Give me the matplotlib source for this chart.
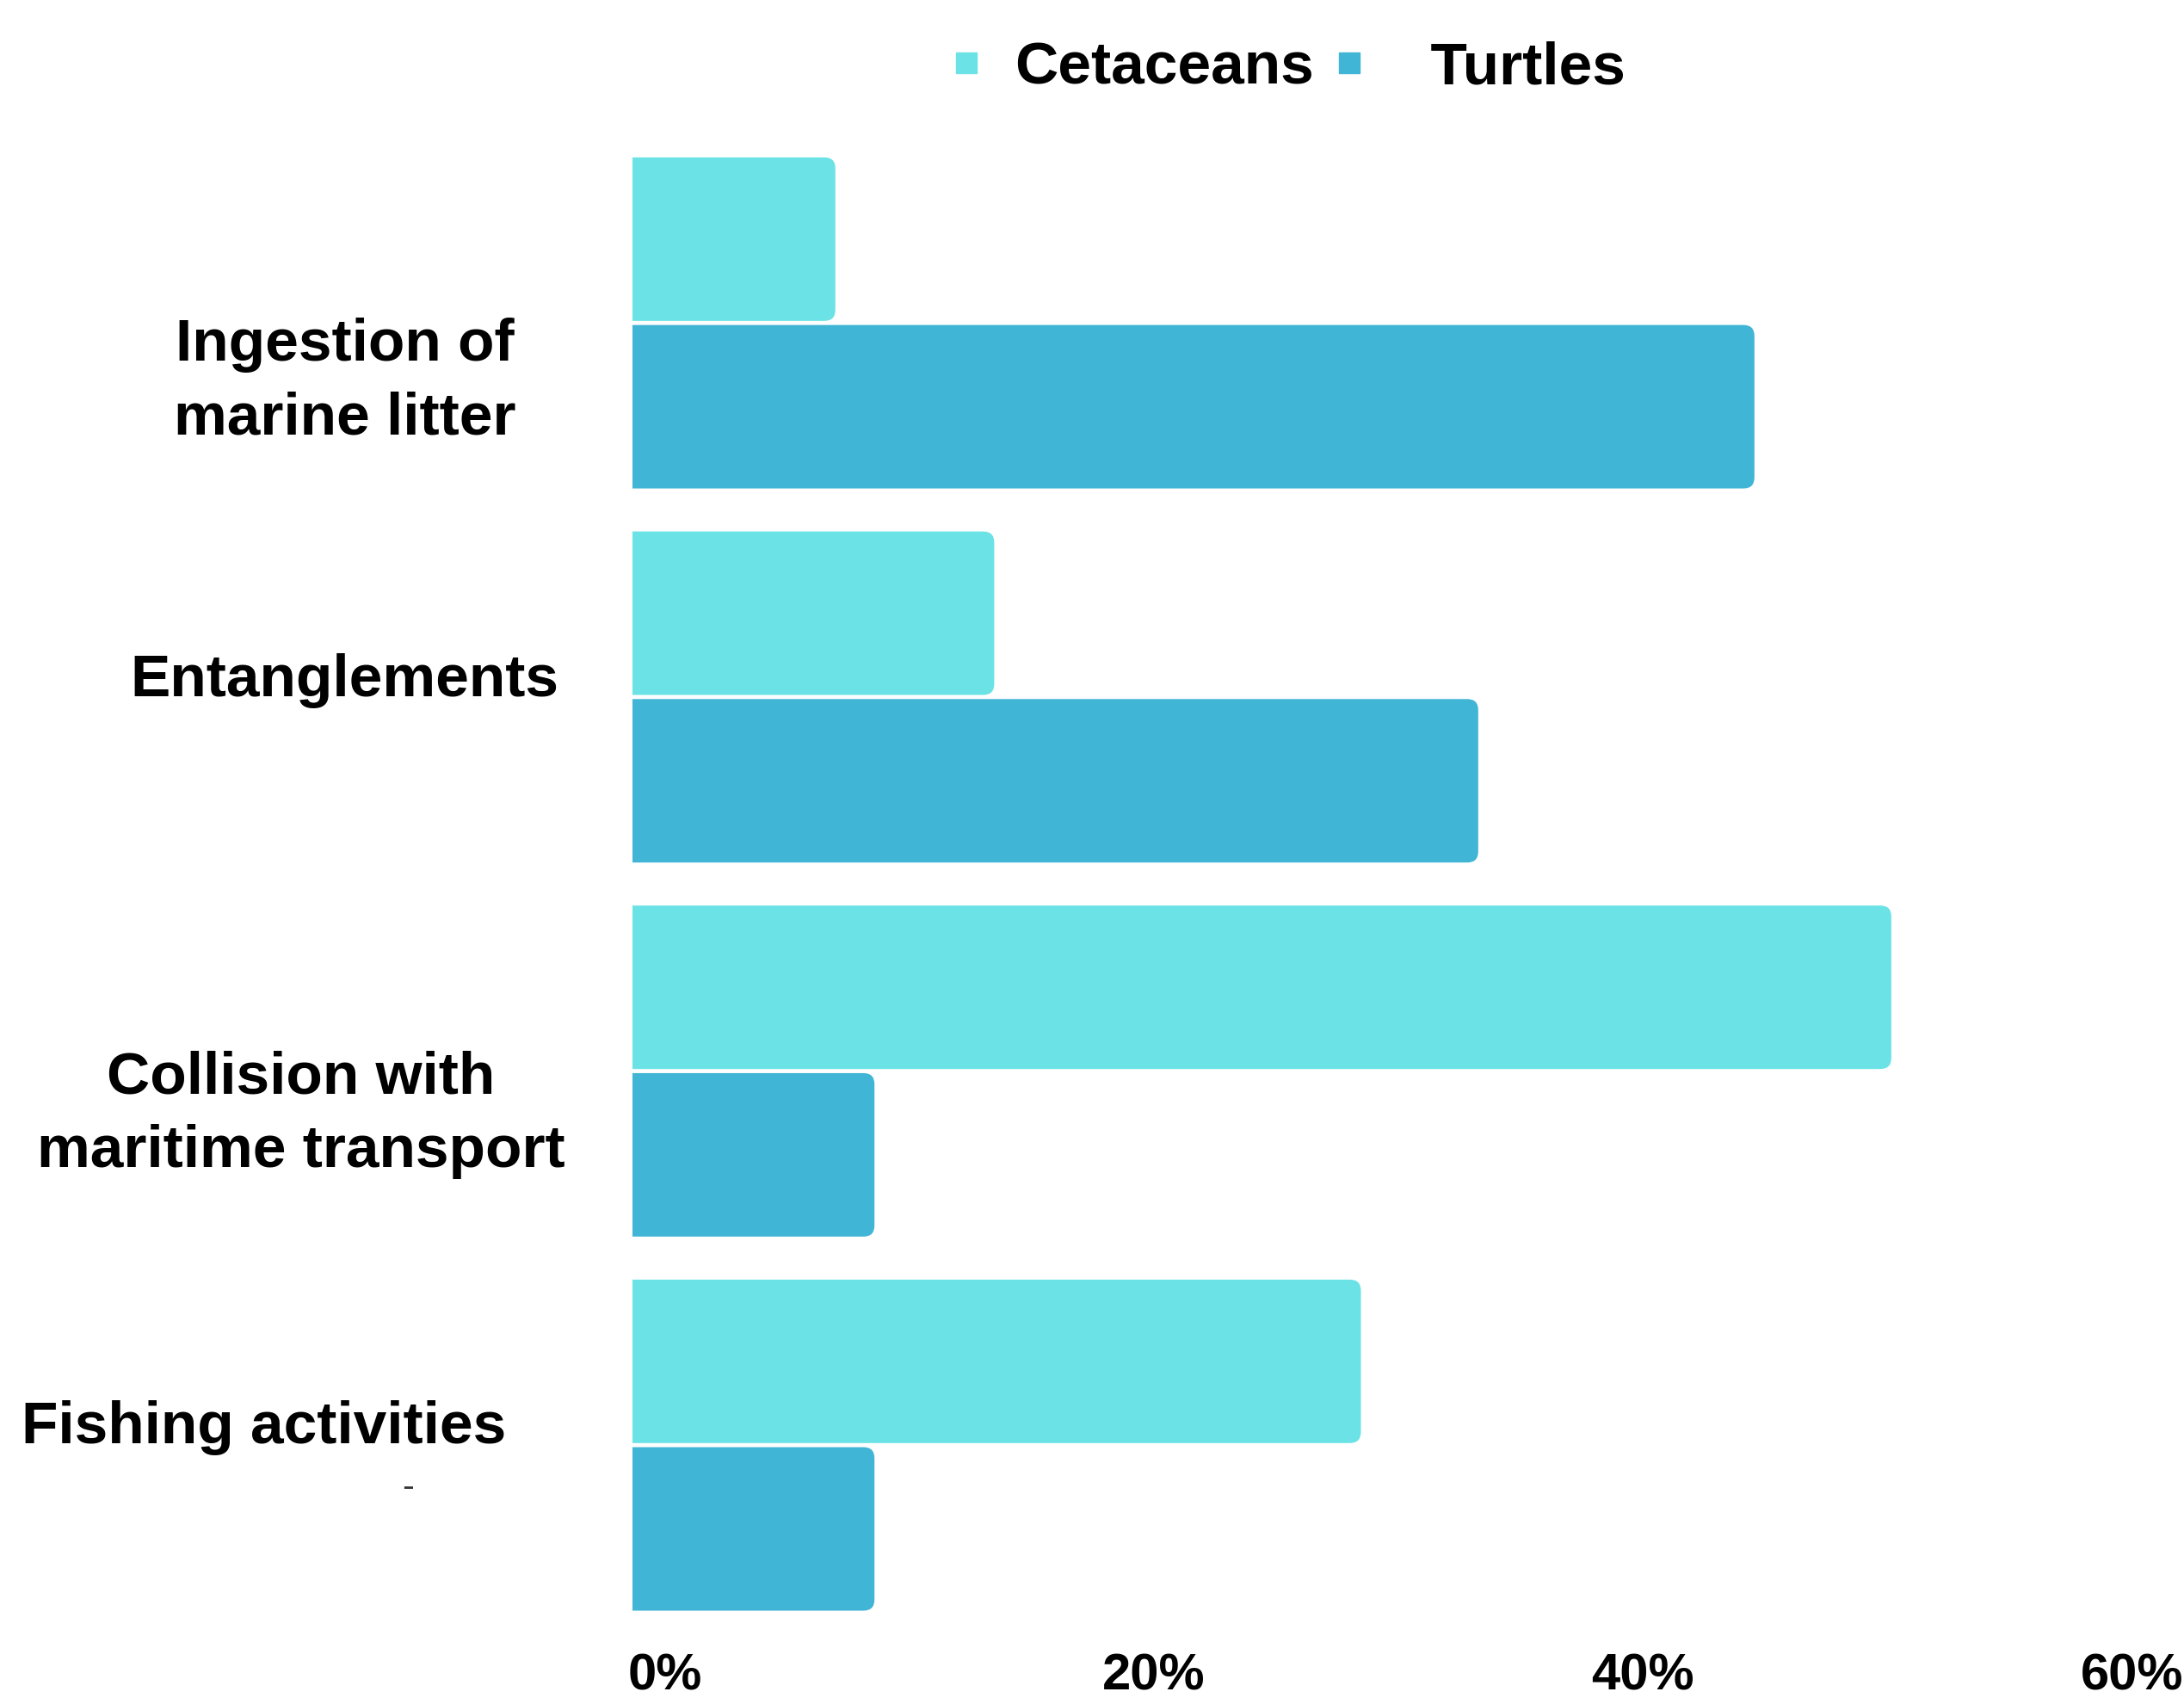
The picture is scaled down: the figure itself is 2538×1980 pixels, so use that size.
import matplotlib
matplotlib.use("Agg")
import matplotlib.pyplot as plt
import numpy as np
from matplotlib.lines import Line2D
from matplotlib.patches import FancyBboxPatch
from matplotlib import transforms

# datos
categories = ["Ingestion of\nmarine litter", "Entanglements",
              "Collision with\nmaritime transport", "Fishing activities"]
cetaceans = [8.3, 14.8, 51.5, 29.8]
turtles = [45.9, 34.6, 9.9, 9.9]
xticks = [0, 20, 40, 60]
xticklabels = ["0%", "20%", "40%", "60%"]

c_cet = "#6be3e6"
c_tur = "#41b5d5"

plt.rcParams['font.family'] = ['Liberation Sans', 'DejaVu Sans']

fig = plt.figure(figsize=(25.38, 19.80), dpi=100)
ax = fig.add_axes([0.2896, 0.0404, 0.6939, 0.8838])

y = np.arange(len(categories))
h = 0.437
off = 0.224
b1 = ax.barh(y - off, cetaceans, height=h, color=c_cet)
b2 = ax.barh(y + off, turtles, height=h, color=c_tur)
ax.set_xlim(0, 62)
ax.set_ylim(3.508, -0.518)

# esquinas redondeadas en el extremo derecho
asp = (1 / 434.7) / (1 / 28.4)
for cont in (b1, b2):
    for bar in cont:
        x0, y0 = bar.get_x(), bar.get_y()
        w, hh = bar.get_width(), bar.get_height()
        p = FancyBboxPatch((x0 - 1, y0), w + 1, hh,
                           boxstyle="round,pad=0,rounding_size=0.45",
                           mutation_aspect=asp, facecolor=bar.get_facecolor(),
                           edgecolor='none', clip_on=True)
        ax.add_patch(p)
        p.set_clip_path(ax.patch)
        bar.set_visible(False)

for s in ax.spines.values():
    s.set_visible(False)

ax.set_yticks([])
ax.set_xticks(xticks, xticklabels)
ax.tick_params(axis='x', length=0, pad=15, labelsize=43)
shift = transforms.ScaledTranslation(0.38, 0, fig.dpi_scale_trans)
for lbl in ax.get_xticklabels():
    lbl.set_fontweight('bold')
    lbl.set_transform(lbl.get_transform() + shift)

# etiquetas de categorias
label_x = [0.158, 0.1576, 0.1379, 0.121]
label_dy = [0.157, -0.044, 0.117, -0.046]
trans = transforms.blended_transform_factory(fig.transFigure, ax.transData)
for i, lab in enumerate(categories):
    ax.text(label_x[i], y[i] + label_dy[i], lab, transform=trans,
            ha='center', va='center', fontsize=50, fontweight='bold',
            linespacing=1.43)

# guion suelto bajo "Fishing activities"
ax.text(474 / 2538, y[3] + 0.115, "-", transform=trans, ha='center',
        va='center', fontsize=30, color='#333333')

handles = [Line2D([], [], marker='s', linestyle='none', markersize=17, color=c_cet),
           Line2D([], [], marker='s', linestyle='none', markersize=17, color=c_tur)]
leg = fig.legend(handles, ['Cetaceans', '  Turtles'], loc='center',
                 bbox_to_anchor=(0.5906, 0.9600), ncol=2, frameon=False,
                 fontsize=50, handlelength=0.4, handletextpad=0.6,
                 columnspacing=0.4)
for t in leg.get_texts():
    t.set_fontweight('bold')

fig.savefig('out.png', dpi=100)
plt.close()
